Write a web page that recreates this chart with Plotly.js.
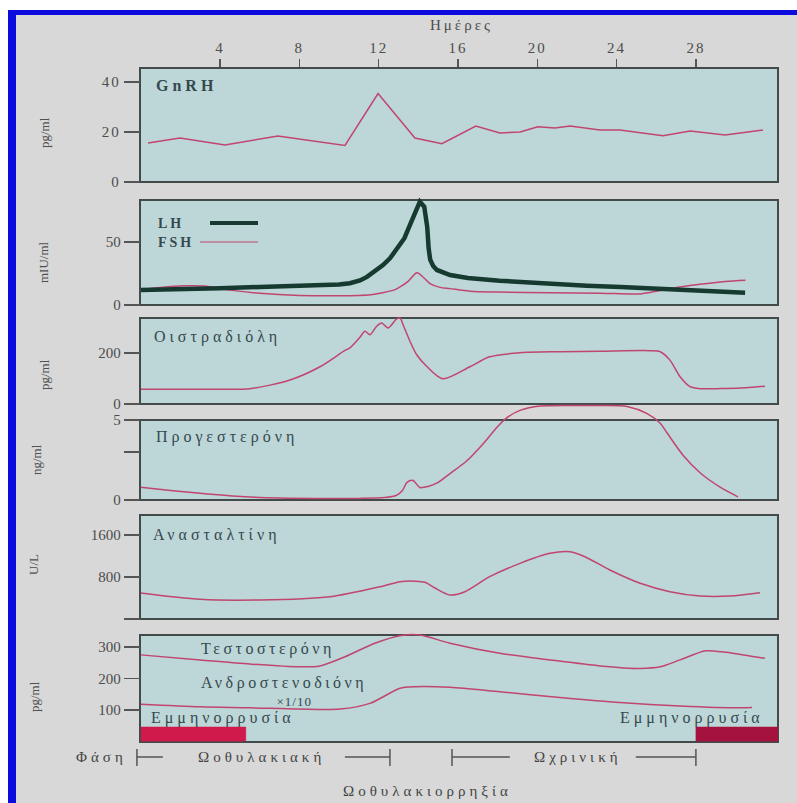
<!DOCTYPE html>
<html><head><meta charset="utf-8">
<script src="https://cdn.plot.ly/plotly-3.0.1.min.js"></script>
<style>html,body{margin:0;padding:0;background:#fff;}#chart{width:797px;height:803px;}</style>
</head><body><div id="chart"></div>
<script>
// ---------------- data ----------------
const dayTicks = [4, 8, 12, 16, 20, 24, 28];

const gnrhDays = [0.37, 1.98, 4.25, 6.92, 10.3, 11.97, 13.83, 14.6, 15.19, 16.9, 18.11, 19.13, 20.03, 20.89, 21.65, 23.16, 24.17, 26.34, 27.71, 29.47, 31.38];
const gnrhVals = [15.6, 17.6, 14.8, 18.4, 14.6, 35.4, 17.6, 16.2, 15.3, 22.4, 19.6, 20, 22.1, 21.6, 22.4, 20.8, 20.8, 18.5, 20.4, 18.8, 20.8];

const lhDays = [0, 2, 4, 6, 8, 9, 10, 10.55, 11.06, 11.41, 11.8, 12.22, 12.57, 12.82, 13.08, 13.3, 13.58, 13.8, 13.93, 14.08, 14.3, 14.45, 14.52, 14.6, 14.75, 14.94, 15.6, 16.5, 18.1, 20, 21.14, 22.5, 24.2, 26, 27.5, 29.22, 30.48];
const lhVals = [11.9, 12.3, 13.2, 14.3, 15.3, 15.6, 16.3, 17.3, 19.5, 22.3, 26.8, 31.7, 37, 42, 47.6, 53, 63.5, 72, 77, 82, 78, 62, 45, 36, 31, 27.8, 23.8, 21.5, 19.3, 17.2, 15.9, 15.2, 14.2, 13, 12.2, 11.1, 9.8];

const fshDays = [0, 1.0, 2.2, 3.2, 4.5, 6.0, 8.0, 10.0, 11.6, 12.2, 12.8, 13.1, 13.5, 13.93, 14.25, 14.59, 15.09, 15.6, 16.6, 18.1, 20.6, 23.2, 25.2, 26.2, 27.2, 28.2, 29.5, 30.5];
const fshVals = [11.9, 13.8, 15.2, 15, 11.8, 9.3, 7.6, 7.3, 8.2, 9.8, 12, 14.5, 19, 25.5, 22, 17, 14, 13, 11, 10.3, 9.8, 9.4, 8.8, 11.5, 14.2, 16.4, 18.6, 19.6];

const e2Days = [0, 2, 4, 5.51, 7.53, 9.04, 10.3, 10.55, 11.06, 11.31, 11.56, 11.9, 12.15, 12.47, 12.91, 13.08, 13.23, 13.58, 13.92, 14.42, 15.24, 16.6, 17.6, 19.13, 21.14, 23.16, 25.69, 26.2, 26.69, 27.2, 27.71, 28.21, 29.5, 30.5, 31.48];
const e2Vals = [58, 58, 58, 60, 94, 146, 210, 220, 262, 285, 272, 305, 318, 298, 334, 337, 311, 246, 193, 148, 99, 146, 185, 201, 205, 207, 209, 205, 172, 107, 68, 60, 61, 64, 70];

const progDays = [0, 1.5, 3, 5.26, 7, 9, 11, 12.3, 12.9, 13.2, 13.43, 13.73, 14.08, 14.5, 15.0, 15.6, 16.45, 17.26, 17.97, 18.47, 19.13, 20.14, 22.5, 24.53, 25.54, 26.2, 26.54, 27.35, 28.21, 29.22, 30.12];
const progVals = [0.8, 0.6, 0.42, 0.2, 0.12, 0.1, 0.1, 0.15, 0.3, 0.6, 1.1, 1.22, 0.78, 0.85, 1.1, 1.65, 2.45, 3.5, 4.55, 5.15, 5.6, 5.87, 5.9, 5.85, 5.4, 4.8, 4.2, 2.8, 1.7, 0.8, 0.2];

const inhDays = [0, 3.0, 6.0, 9.55, 12.07, 13.08, 13.83, 14.34, 14.84, 15.6, 16.35, 17.6, 19.13, 20.64, 21.65, 22.4, 23.66, 25.19, 26.69, 28.21, 29.72, 31.23];
const inhVals = [495, 375, 362, 425, 615, 711, 720, 700, 590, 457, 520, 806, 1060, 1251, 1282, 1187, 933, 680, 520, 438, 438, 501];

const testDays = [0, 3.0, 5.5, 8.0, 9.04, 10.3, 11.81, 13.08, 14.08, 15.6, 18.11, 20.64, 23.16, 25.19, 26.2, 27.2, 28.5, 29.5, 30.5, 31.48];
const testVals = [275, 259, 246, 237, 240, 269, 312, 336, 338, 312, 280, 259, 240, 232, 237, 259, 288, 283, 274, 264];

const andDays = [0, 3.0, 5.5, 8.0, 10.05, 11.56, 13.08, 13.83, 15.6, 18.11, 21.14, 24.17, 27.2, 30.22, 30.83];
const andVals = [118, 110, 107, 103, 103, 121, 169, 174, 172, 158, 140, 124, 113, 107, 108];

const mensesStart = [0, 28.0];
const mensesEnd = [5.3, 32.14];
const mensesColor = ['#cf1a4b', '#a6123f'];

const phaseNames = ['Ωοθυλακιακή', 'Ωχρινική'];
const phaseStart = [-0.19, 15.7];
const phaseEnd = [12.57, 28.0];
const phaseTextCenter = [6.09, 22.03];
const phaseGapLeft = [1.12, 18.62];
const phaseGapRight = [10.3, 24.97];

// ---------------- helpers ----------------
const W = 797, H = 803;
const X0 = 140.7, X1 = 778, XMAX = 32.14;
const px = x => x / W;
const py = y => 1 - y / H;
const dayPaper = d => px(X0 + (X1 - X0) * d / XMAX);
const SERIF = 'Liberation Serif, Times New Roman, DejaVu Serif, serif';
const PINK = '#c0466f';
const TXT = '#34494d';
const TICK = '#4d4d4d';

function line(xs, ys, ax, color, width, shape) {
  return {type: 'scatter', mode: 'lines', x: xs, y: ys, xaxis: 'x', yaxis: ax,
    line: {color: color, width: width, shape: shape || 'linear', smoothing: 0.8},
    hoverinfo: 'skip', showlegend: false};
}

const data = [
  line(gnrhDays, gnrhVals, 'y', PINK, 1.5),
  line(fshDays, fshVals, 'y2', PINK, 1.5, 'spline'),
  line(lhDays, lhVals, 'y2', '#163a30', 4.5),
  line(e2Days, e2Vals, 'y3', PINK, 1.5, 'spline'),
  line(progDays, progVals, 'y4', PINK, 1.5, 'spline'),
  line(inhDays, inhVals, 'y5', PINK, 1.5, 'spline'),
  line(testDays, testVals, 'y6', PINK, 1.5, 'spline'),
  line(andDays, andVals, 'y6', PINK, 1.5, 'spline')
];

function yax(bottomPx, pxPerUnit, top, tickvals, ticktext) {
  const topPx = bottomPx - top * pxPerUnit;
  return {domain: [py(bottomPx), py(topPx)], range: [0, top], anchor: 'x',
    tickvals: tickvals, ticktext: ticktext, ticks: 'outside', ticklen: 16, tickwidth: 1.5,
    tickcolor: '#555', showgrid: false, zeroline: false, showline: false,
    tickfont: {family: SERIF, size: 15, color: TICK}, fixedrange: true};
}

const shapes = [];
// page background, blue frame
shapes.push({type: 'rect', xref: 'paper', yref: 'paper', x0: 0, x1: 1, y0: py(10), y1: 1, fillcolor: '#ffffff', line: {width: 0}, layer: 'below'});
shapes.push({type: 'rect', xref: 'paper', yref: 'paper', x0: 0, x1: px(8), y0: 0, y1: 1, fillcolor: '#ffffff', line: {width: 0}, layer: 'below'});
shapes.push({type: 'rect', xref: 'paper', yref: 'paper', x0: px(8), x1: 1, y0: py(15), y1: py(10), fillcolor: '#0b0bde', line: {width: 0}, layer: 'below'});
shapes.push({type: 'rect', xref: 'paper', yref: 'paper', x0: px(8), x1: px(16), y0: 0, y1: py(10), fillcolor: '#0b0bde', line: {width: 0}, layer: 'below'});

// panel boxes
const boxTops = [68, 200, 318, 420, 515, 635];
const boxBottoms = [182, 305, 404, 500, 619, 742];
for (let i = 0; i < boxTops.length; i++) {
  shapes.push({type: 'rect', xref: 'paper', yref: 'paper', x0: px(140), x1: px(778),
    y0: py(boxBottoms[i]), y1: py(boxTops[i]), fillcolor: '#bdd6d8',
    line: {color: '#434a4a', width: 2}, layer: 'below'});
}
// menstruation bars
for (let i = 0; i < mensesStart.length; i++) {
  shapes.push({type: 'rect', xref: 'x', yref: 'y6', x0: mensesStart[i], x1: mensesEnd[i], y0: 0, y1: 46,
    fillcolor: mensesColor[i], line: {color: mensesColor[i], width: 0.5}, layer: 'above'});
}
// legend lines in LH panel
shapes.push({type: 'line', xref: 'paper', yref: 'paper', x0: px(210), x1: px(258), y0: py(223), y1: py(223), line: {color: '#163a30', width: 4}});
shapes.push({type: 'line', xref: 'paper', yref: 'paper', x0: px(200), x1: px(258), y0: py(242), y1: py(242), line: {color: PINK, width: 1.2}});
// phase brackets (below the plot area, so placed in paper space)
for (let i = 0; i < phaseNames.length; i++) {
  const lc = {color: '#555', width: 1.5};
  const s = dayPaper(phaseStart[i]), e = dayPaper(phaseEnd[i]);
  shapes.push({type: 'line', xref: 'paper', yref: 'paper', x0: s, x1: dayPaper(phaseGapLeft[i]), y0: py(757), y1: py(757), line: lc});
  shapes.push({type: 'line', xref: 'paper', yref: 'paper', x0: dayPaper(phaseGapRight[i]), x1: e, y0: py(757), y1: py(757), line: lc});
  shapes.push({type: 'line', xref: 'paper', yref: 'paper', x0: s, x1: s, y0: py(766), y1: py(749), line: lc});
  shapes.push({type: 'line', xref: 'paper', yref: 'paper', x0: e, x1: e, y0: py(766), y1: py(749), line: lc});
}

const annotations = [];
const spaced = [];
function ann(text, x, y, xanchor, opts, spacing) {
  const o = Object.assign({text: text, xref: 'paper', yref: 'paper', x: px(x), y: py(y),
    xanchor: xanchor, yanchor: 'middle', showarrow: false,
    align: xanchor === 'left' ? 'left' : (xanchor === 'right' ? 'right' : 'center'),
    font: {family: SERIF, size: 16, color: TXT}}, opts || {});
  annotations.push(o);
  spaced.push(spacing || 0);
}
ann('Ημέρες', 461, 25, 'center', {font: {family: SERIF, size: 15, color: TICK}}, 3);
// y titles
const yt = {textangle: -90, font: {family: SERIF, size: 13, color: '#505050'}};
ann('pg/ml', 44, 133, 'center', yt);
ann('mIU/ml', 43, 262, 'center', yt);
ann('pg/ml', 44, 375, 'center', yt);
ann('ng/ml', 37, 460, 'center', yt);
ann('U/L', 33, 565, 'center', yt);
ann('pg/ml', 34, 697, 'center', yt);
// panel labels
ann('GnRH', 154, 86, 'left', {font: {family: SERIF, size: 16, color: TXT, weight: 'bold'}}, 4);
ann('LH', 156, 223, 'left', {font: {family: SERIF, size: 14, color: TXT, weight: 'bold'}}, 3);
ann('FSH', 156, 242, 'left', {font: {family: SERIF, size: 14, color: TXT, weight: 'bold'}}, 3);
ann('Οιστραδιόλη', 152, 337, 'left', {}, 4);
ann('Προγεστερόνη', 154, 437, 'left', {}, 4);
ann('Ανασταλτίνη', 151, 535, 'left', {}, 4);
ann('Τεστοστερόνη', 199, 649, 'left', {}, 3.5);
ann('Ανδροστενοδιόνη', 199, 683, 'left', {}, 3.5);
ann('×1/10', 294, 701, 'center', {font: {family: SERIF, size: 13, color: TXT}}, 1);
ann('Εμμηνορρυσία', 149, 718, 'left', {}, 4);
ann('Εμμηνορρυσία', 766, 718, 'right', {}, 4);
// phase labels
const ph = {font: {family: SERIF, size: 15, color: '#444'}};
ann('Φάση', 129, 757, 'right', ph, 4);
for (let i = 0; i < phaseNames.length; i++) {
  annotations.push({text: phaseNames[i], xref: 'x', yref: 'paper', x: phaseTextCenter[i], y: py(757),
    xanchor: 'center', yanchor: 'middle', showarrow: false, align: 'center',
    font: {family: SERIF, size: 15, color: '#444'}});
  spaced.push(4);
}
ann('Ωοθυλακιορρηξία', 427, 791, 'center', ph, 4);

const layout = {
  width: 797, height: 803,
  margin: {l: 0, r: 0, t: 0, b: 0},
  paper_bgcolor: '#d7d8d7',
  plot_bgcolor: 'rgba(0,0,0,0)',
  showlegend: false,
  xaxis: {domain: [px(X0), px(X1)], range: [0, XMAX], anchor: 'y', side: 'top',
    tickvals: dayTicks, ticks: 'outside', ticklen: 8, tickwidth: 1.5, tickcolor: '#555',
    showgrid: false, zeroline: false, showline: false,
    tickfont: {family: SERIF, size: 15, color: TICK}, fixedrange: true},
  yaxis:  yax(182, 2.5, 45.6, [0, 20, 40], ['0', '20', '40']),
  yaxis2: yax(305, 1.26, 88, [0, 50], ['0', '50']),
  yaxis3: yax(404, 0.255, 350, [0, 200], ['0', '200']),
  yaxis4: yax(500, 16, 6.4, [0, 3, 5], ['0', '', '5']),
  yaxis5: yax(619, 0.0525, 1981, [0, 800, 1600], ['', '800', '1600']),
  yaxis6: yax(741.5, 0.315, 345, [100, 200, 300], ['100', '200', '300']),
  shapes: shapes,
  annotations: annotations
};

Plotly.newPlot('chart', data, layout, {displayModeBar: false, staticPlot: true}).then(gd => {
  gd.querySelectorAll('.xtick text, .ytick text').forEach(t => { t.style.letterSpacing = '2px'; });
  spaced.forEach((s, i) => {
    if (!s) return;
    gd.querySelectorAll('.annotation[data-index="' + i + '"] text').forEach(t => { t.style.letterSpacing = s + 'px'; });
  });
});
</script>
</body></html>
